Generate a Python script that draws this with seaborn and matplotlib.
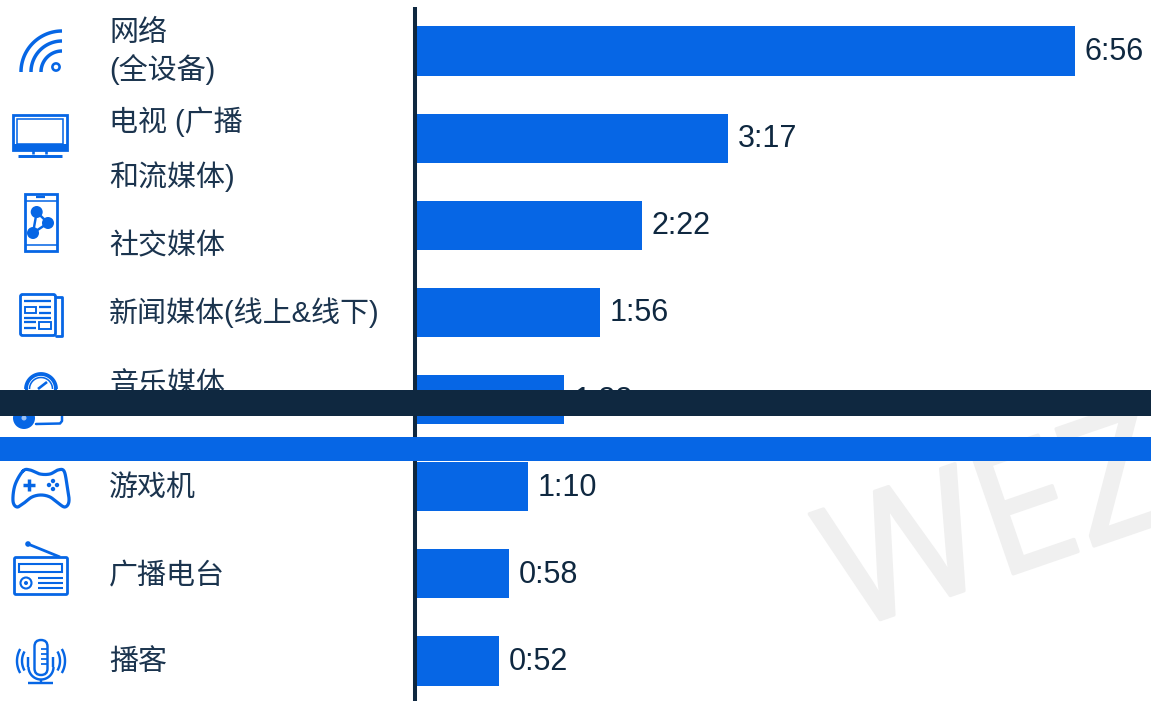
import numpy as np
import pandas as pd
import matplotlib
matplotlib.use("Agg")
import matplotlib.pyplot as plt
import matplotlib.patheffects as pe
from matplotlib.patches import Rectangle, Circle, FancyBboxPatch
import seaborn as sns

# Daily time spent per medium
categories = ["网络\n(全设备)", "电视 (广播\n和流媒体)", "社交媒体", "新闻媒体(线上&线下)",
              "音乐媒体", "游戏机", "广播电台", "播客"]
durations = ["6:56", "3:17", "2:22", "1:56", "1:33", "1:10", "0:58", "0:52"]
minutes = [416, 197, 142, 116, 93, 70, 58, 52]

BLUE = "#0666E5"
NAVY = "#0F2840"
TEXT = "#1B344E"
W, H = 1151, 701

sns.set_theme(style="white")
plt.rcParams["font.family"] = ["Liberation Sans", "Noto Sans CJK SC"]

fig = plt.figure(figsize=(W / 100, H / 100), dpi=100, facecolor="white")
ax = fig.add_axes([0, 0, 1, 1])

df = pd.DataFrame({"category": categories, "minutes": minutes})
sns.barplot(data=df, x="minutes", y="category", color=BLUE, saturation=1,
            width=0.565, linewidth=0, ax=ax)

# Zero sits at the right edge of the vertical rule; rows are evenly spaced
px_per_min = 1.581
ax.set_xlim(-417 / px_per_min, (W - 417) / px_per_min)
row = 87.14
ax.set_ylim((H - 51) / row, -51 / row)
ax.set_xlabel("")
ax.set_ylabel("")
ax.set_xticks([])
ax.set_yticks([])
sns.despine(ax=ax, left=True, bottom=True)
value_labels = ax.bar_label(ax.containers[0], labels=durations, padding=7, fontsize=22,
                            color=NAVY, family="Liberation Sans")
for t in value_labels:
    t.xyann = (7, -0.7)

# Pixel-space layer for the rule, row captions, pictograms and bands
ov = fig.add_axes([0, 0, 1, 1], facecolor="none")
ov.set_xlim(0, W)
ov.set_ylim(H, 0)
ov.axis("off")

mark = ov.text(847, 631, "WEZ", fontsize=124, color="#F0F0F0", rotation=19,
               rotation_mode="anchor", ha="left", va="baseline", zorder=0,
               family="Open Sans", clip_on=True)
mark.set_path_effects([pe.withStroke(linewidth=2.5, foreground="#F0F0F0")])

ov.plot([415, 415], [7, H], color=NAVY, lw=2.9, solid_capstyle="butt", zorder=3)

caption_y = [[33, 70], [122, 177], [246], [313], [385], [488], [576], [662]]
for label, ys in zip(categories, caption_y):
    for line, y in zip(label.split("\n"), ys):
        ov.text(109, y, line, fontsize=20.9, color=TEXT, ha="left",
                va="center", zorder=3)

ICON = dict(color=BLUE, solid_capstyle="butt", zorder=3)
THICK = 1.25


def stroke(xs, ys, lw=2.0):
    ov.plot(xs, ys, lw=lw * THICK, **ICON)


def arc(cx, cy, r, a0, a1, lw=2.0):
    t = np.radians(np.linspace(a0, a1, 50))
    stroke(cx + r * np.cos(t), cy - r * np.sin(t), lw)


def box(x0, y0, x1, y1, lw=1.5, fill="none"):
    ov.add_patch(Rectangle((x0, y0), x1 - x0, y1 - y0, fc=fill, ec=BLUE,
                           lw=lw * THICK, zorder=3))


def dot(cx, cy, r, lw=0.0, fill=BLUE):
    ov.add_patch(Circle((cx, cy), r, fc=fill, ec=BLUE, lw=lw * THICK, zorder=3))


def rounded(x0, y0, x1, y1, rad, lw=1.6, fill="none"):
    ov.add_patch(FancyBboxPatch((x0, y0), x1 - x0, y1 - y0,
                                boxstyle=f"round,pad=0,rounding_size={rad}",
                                fc=fill, ec=BLUE, lw=lw * THICK, zorder=3))


def smooth_closed(pts, n=12):
    p = np.array(pts, dtype=float)
    out = []
    for i in range(len(p)):
        p0, p1, p2, p3 = p[i - 1], p[i], p[(i + 1) % len(p)], p[(i + 2) % len(p)]
        for t in np.linspace(0, 1, n, endpoint=False):
            out.append(0.5 * (2 * p1 + (p2 - p0) * t + (2 * p0 - 5 * p1 + 4 * p2 - p3) * t ** 2
                              + (3 * p1 - p0 - 3 * p2 + p3) * t ** 3))
    out.append(out[0])
    return np.array(out)


# Wi-Fi
for r in (41, 31, 21):
    arc(62, 72, r, 90, 180, 2.0)
dot(56, 67, 3.6, lw=1.5, fill="white")

# Television
box(13, 115, 67, 150, lw=1.6)
box(17, 119, 63, 144, lw=0.9)
ov.add_patch(Rectangle((13, 144), 54, 6, fc=BLUE, ec="none", zorder=3))
stroke([33.5, 33.5], [150, 154], 1.5)
stroke([46.5, 46.5], [150, 154], 1.5)
stroke([18, 62], [155.5, 155.5], 1.7)

# Phone with a share graph
box(25, 194, 57, 251, lw=1.6)
stroke([25, 57], [201, 201], 0.9)
stroke([25, 57], [245, 245], 0.9)
stroke([36, 45], [197, 197], 1.3)
nodes = [(36.7, 212), (48, 223), (33, 233)]
stroke([nodes[0][0], nodes[1][0], nodes[2][0], nodes[0][0]],
       [nodes[0][1], nodes[1][1], nodes[2][1], nodes[0][1]], 1.4)
for n in nodes:
    dot(n[0], n[1], 6)

# Newspaper
ov.plot([56, 62, 62, 56], [297, 297, 336, 336], lw=2.0, color=BLUE, zorder=3)
rounded(20.5, 294.5, 55.5, 335.5, 2, fill="white")
stroke([24, 51], [301, 301], 1.3)
box(25, 307, 36, 313, lw=1.1)
stroke([39, 51], [307, 307], 1.3)
stroke([39, 51], [313, 313], 1.3)
stroke([24, 51], [317.5, 317.5], 1.3)
stroke([24, 36], [322, 322], 1.3)
stroke([24, 36], [328, 328], 1.3)
box(39, 322, 51, 329, lw=1.1)

# Headphones over a disc and box
arc(41, 389, 15, 0, 180, 2.2)
arc(41, 389, 11.5, 0, 180, 0.9)
stroke([26, 26], [388, 398], 1.8)
stroke([55, 55], [388, 398], 1.8)
stroke([38, 47], [389, 382], 1.5)
ov.plot([36, 60, 62, 62], [424, 423.5, 421, 412], lw=1.8, color=BLUE, zorder=3)
dot(24, 418, 11, lw=0.0)
dot(24, 418, 2.5, lw=0, fill="#9CC2F5")
arc(24, 418, 7, 200, 340, 0.6)

# Game controller
pad = smooth_closed([(23, 471), (30, 470), (40, 474), (50, 474), (58, 470), (64, 471),
                     (67, 485), (69, 501), (65, 507), (58, 503), (50, 497), (41, 495),
                     (32, 497), (24, 503), (17, 507), (13, 501), (15, 485)])
ov.plot(pad[:, 0], pad[:, 1], color=BLUE, lw=2.3, zorder=3)
stroke([23, 35], [485, 485], 2.0)
stroke([29, 29], [479, 491], 2.0)
for cx, cy in [(53, 481), (53, 489), (49, 485), (57, 485)]:
    dot(cx, cy, 2.2)

# Radio
rounded(14.5, 557.5, 67.5, 594.5, 1.5)
box(19.5, 563.5, 62.5, 571.5, lw=1.2)
dot(26, 583, 5.5, lw=1.2, fill="white")
dot(26, 583, 2)
for y in (578, 583, 588):
    stroke([38, 63], [y, y], 1.2)
stroke([28, 60], [544, 557], 1.6)
dot(28, 544, 2.8)

# Microphone
rounded(34.5, 640, 47.5, 675, 6.5, lw=1.4, fill="white")
for y in (649, 654, 659, 664):
    stroke([41, 47], [y, y], 1.0)
arc(41, 667, 12.5, 180, 360, 1.4)
stroke([28.5, 28.5], [657, 667], 1.4)
stroke([53.5, 53.5], [657, 667], 1.4)
stroke([41, 41], [680, 683], 1.4)
stroke([28, 53], [683, 683], 1.4)
for r in (19, 24):
    arc(41, 661, r, 150, 210, 1.4)
    arc(41, 661, r, -30, 30, 1.4)

# Full-width bands laid over the chart
ov.add_patch(Rectangle((0, 390), W, 26, fc=NAVY, ec="none", zorder=10))
ov.add_patch(Rectangle((0, 437), W, 24, fc=BLUE, ec="none", zorder=10))

fig.savefig("out.png", dpi=100, facecolor="white")
